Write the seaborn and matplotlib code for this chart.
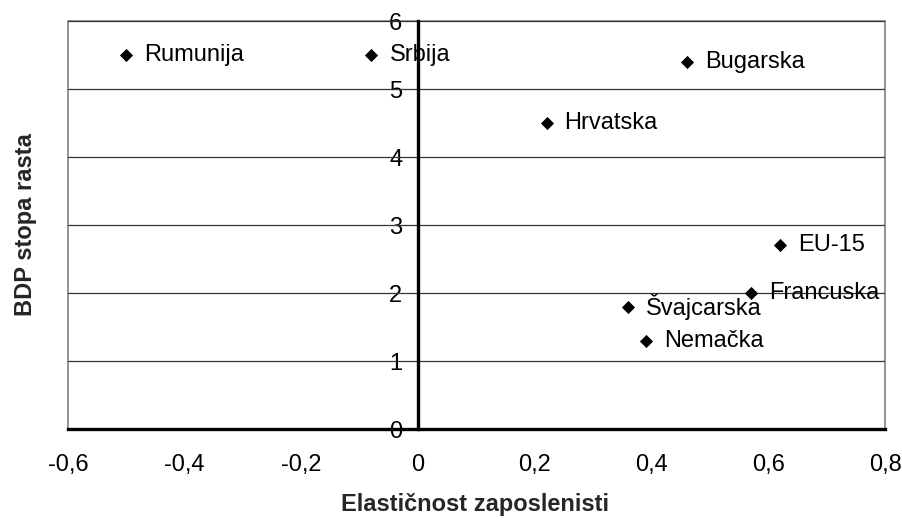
import matplotlib
matplotlib.use("Agg")
import matplotlib.pyplot as plt
from matplotlib.patches import Rectangle
from matplotlib.ticker import FuncFormatter, FixedLocator
import seaborn as sns
import pandas as pd

countries = ["Rumunija", "Srbija", "Bugarska", "Hrvatska", "EU-15",
             "Francuska", "Švajcarska", "Nemačka"]
elasticity = [-0.50, -0.08, 0.46, 0.22, 0.62, 0.57, 0.36, 0.39]
gdp_growth = [5.5, 5.5, 5.4, 4.5, 2.7, 2.0, 1.8, 1.3]
x_ticks = [-0.6, -0.4, -0.2, 0.0, 0.2, 0.4, 0.6, 0.8]
y_ticks = [0, 1, 2, 3, 4, 5, 6]

df = pd.DataFrame({"country": countries, "x": elasticity, "y": gdp_growth})

sns.set_style("white")
plt.rcParams["font.family"] = ["Liberation Sans", "DejaVu Sans"]

fig = plt.figure(figsize=(9.02, 5.2), dpi=100)
ax = fig.add_axes([68 / 902, 1 - 429 / 520, 817 / 902, 408 / 520])

ax.set_xlim(-0.6, 0.8)
ax.set_ylim(0, 6)

# horizontal gridlines
for yv in y_ticks[1:]:
    ax.axhline(yv, color="#333333", lw=0.9, zorder=1)

sns.scatterplot(data=df, x="x", y="y", marker="D", color="black", s=45,
                linewidth=0, ax=ax, zorder=5)

for c, xv, yv in zip(countries, elasticity, gdp_growth):
    ax.annotate(c, (xv, yv), xytext=(13, 0), textcoords="offset points",
                ha="left", va="center", fontsize=17, color="black", zorder=6)

# plot-area border
ax.add_patch(Rectangle((0, 0), 1, 1, transform=ax.transAxes, fill=False,
                       edgecolor="#808080", lw=1.2, clip_on=False, zorder=0))

for s in ["top", "right"]:
    ax.spines[s].set_visible(False)
ax.spines["left"].set_position(("data", 0))
ax.spines["left"].set_color("black")
ax.spines["left"].set_linewidth(2.4)
ax.spines["left"].set_zorder(4)
ax.spines["bottom"].set_color("black")
ax.spines["bottom"].set_linewidth(2.4)
ax.spines["bottom"].set_zorder(4)

ax.xaxis.set_major_locator(FixedLocator(x_ticks))
ax.yaxis.set_major_locator(FixedLocator(y_ticks))

def fmt(v, pos):
    if abs(v) < 1e-9:
        return "0"
    s = f"{v:.1f}" if abs(v - round(v)) > 1e-9 else f"{int(round(v))}"
    return s.replace(".", ",")

ax.xaxis.set_major_formatter(FuncFormatter(fmt))
ax.yaxis.set_major_formatter(FuncFormatter(fmt))
ax.tick_params(axis="x", direction="out", length=6, width=2.2, pad=12,
               labelsize=17, colors="black")
ax.tick_params(axis="y", direction="out", length=4.5, width=2.2, pad=7,
               labelsize=17, colors="black")
ax.grid(False)

ax.set_xlabel("Elastičnost zaposlenisti", fontsize=17, fontweight="bold")
ax.set_ylabel("BDP stopa rasta", fontsize=17, fontweight="bold")
ax.xaxis.set_label_coords(0.498, -0.186)
ax.xaxis.label.set_va("center")
ax.yaxis.set_label_coords(-0.0526, 0.5)
ax.yaxis.label.set_va("center")

fig.savefig("out.png", dpi=100)
